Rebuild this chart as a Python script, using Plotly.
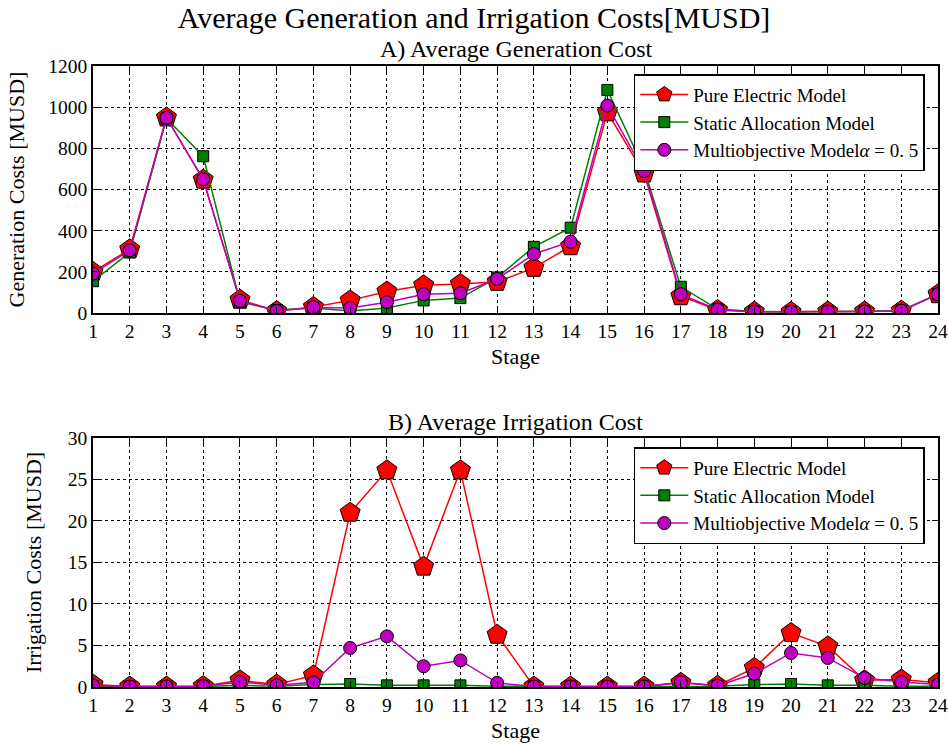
import plotly.graph_objects as go
from plotly.subplots import make_subplots

stages = list(range(1, 25))

gen_pure = [200, 310, 950, 648, 65, 10, 30, 62, 105, 135, 142, 152, 220, 325, 975, 678, 82, 15, 7, 6, 8, 8, 12, 92]
gen_static = [155, 295, 945, 762, 55, 15, 25, 10, 25, 62, 73, 173, 322, 415, 1084, 700, 128, 20, 8, 6, 8, 8, 12, 92]
gen_multi = [192, 305, 948, 650, 60, 10, 28, 25, 53, 92, 97, 166, 287, 347, 1008, 690, 92, 17, 7, 6, 8, 8, 12, 92]

irr_pure = [0.3, 0.05, 0.05, 0.1, 0.8, 0.3, 1.4, 21.0, 26.1, 14.5, 26.1, 6.3, 0.05, 0.05, 0.05, 0.05, 0.5, 0.15, 2.3, 6.5, 4.9, 0.8, 0.9, 0.5]
irr_static = [0.1, 0.05, 0.05, 0.05, 0.2, 0.1, 0.3, 0.36, 0.2, 0.2, 0.2, 0.1, 0.05, 0.05, 0.05, 0.05, 0.1, 0.1, 0.3, 0.36, 0.2, 0.2, 0.1, 0.1]
irr_multi = [0.2, 0.05, 0.05, 0.1, 0.6, 0.2, 0.56, 4.7, 6.1, 2.5, 3.2, 0.5, 0.05, 0.05, 0.05, 0.05, 0.56, 0.15, 1.6, 4.1, 3.5, 1.08, 0.6, 0.3]

names = ["Pure Electric Model", "Static Allocation Model", "Multiobjective Model<i>α</i> = 0. 5"]
colors = ["#ff0000", "#008000", "#bf00bf"]
symbols = ["pentagon", "square", "circle"]
sizes = [21, 11, 13]

FONT = "Liberation Serif, Times New Roman, serif"

fig = make_subplots(rows=2, cols=1, vertical_spacing=0.2,
                    subplot_titles=("A) Average Generation Cost", "B) Average Irrigation Cost"))

for row, series, leg in [(1, [gen_pure, gen_static, gen_multi], "legend"),
                         (2, [irr_pure, irr_static, irr_multi], "legend2")]:
    for name, ys, c, s, sz in zip(names, series, colors, symbols, sizes):
        fig.add_trace(go.Scatter(
            x=stages, y=ys, mode="lines+markers", name=name, legend=leg,
            line=dict(color=c, width=1.5),
            marker=dict(symbol=s, size=sz, color=c, line=dict(color="black", width=1)),
        ), row=row, col=1)

axis_common = dict(showline=True, linecolor="black", linewidth=1.5, mirror="allticks",
                   ticks="inside", ticklen=6, tickcolor="black", automargin=False,
                   showgrid=True, gridcolor="black", griddash="dot", gridwidth=0.8,
                   zeroline=False, tickfont=dict(size=19.5, color="black", family=FONT))

title_font = dict(size=22, color="black", family=FONT)
fig.update_xaxes(range=[1, 24], dtick=1, tick0=1, **axis_common)
fig.update_xaxes(title=dict(text="Stage", font=title_font, standoff=7), row=1, col=1)
fig.update_xaxes(title=dict(text="Stage", font=title_font, standoff=7), row=2, col=1)
fig.update_yaxes(**axis_common)
fig.update_yaxes(range=[0, 1200], dtick=200, row=1, col=1,
                 title=dict(text="Generation Costs [MUSD]", font=title_font, standoff=18))
fig.update_yaxes(range=[0, 30], dtick=5, row=2, col=1,
                 title=dict(text="Irrigation Costs [MUSD]", font=title_font, standoff=20))

fig.update_layout(
    width=948, height=747,
    margin=dict(l=93, r=10, t=66, b=60),
    paper_bgcolor="white", plot_bgcolor="white",
    font=dict(family=FONT, color="black"),
    title=dict(text="Average Generation and Irrigation Costs[MUSD]", x=0.5, xanchor="center",
               yref="container", y=0.977, yanchor="middle", font=dict(size=30, family=FONT, color="black")),
    xaxis=dict(domain=[0, 1]), yaxis=dict(domain=[0.602, 1]),
    xaxis2=dict(domain=[0, 1]), yaxis2=dict(domain=[0, 0.401]),
    legend=dict(x=0.640, y=0.987, xanchor="left", yanchor="top", bgcolor="white", itemwidth=48,
                bordercolor="black", borderwidth=1.5, font=dict(size=19, family=FONT, color="black")),
    legend2=dict(x=0.640, y=0.386, xanchor="left", yanchor="top", bgcolor="white", itemwidth=48,
                 bordercolor="black", borderwidth=1.5, font=dict(size=19, family=FONT, color="black")),
    showlegend=True,
)
for ann in fig.layout.annotations:
    ann.font = dict(size=24, family=FONT, color="black")
    ann.yshift = 2

fig.write_html("out.html")
